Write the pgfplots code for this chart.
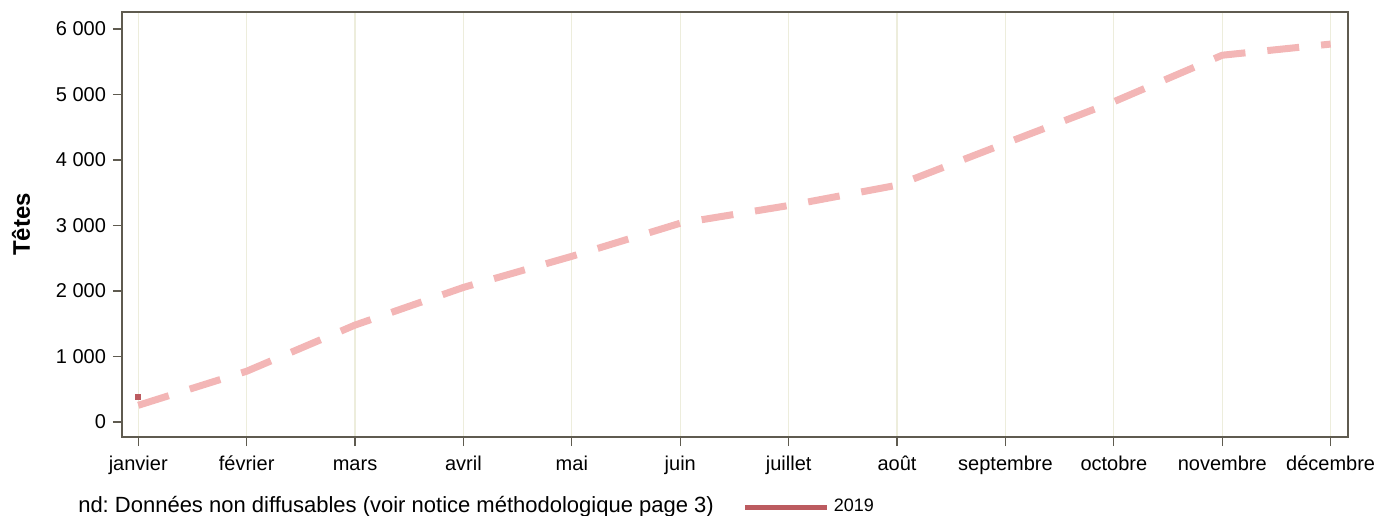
\documentclass[border=0pt]{standalone}
\usepackage{fontspec}
\setmainfont{Liberation Sans}
\usepackage{pgfplots}
\pgfplotsset{compat=1.18}
\definecolor{pinkline}{HTML}{F3B6B6}
\definecolor{darkred}{HTML}{BC5B60}
\definecolor{axisgrey}{HTML}{5F5B50}
\definecolor{gridbeige}{HTML}{EDEDDC}
\frenchspacing

\begin{document}
\begin{tikzpicture}[x=1pt,y=1pt]
\path[use as bounding box] (0,0) rectangle (694.5,257.5);
\begin{axis}[
  at={(61pt,39pt)},anchor=south west,
  scale only axis,width=613pt,height=212.5pt,
  xmin=-0.15,xmax=11.16,ymin=-229,ymax=6260,
  axis line style={axisgrey,line width=0.8pt},
  tick style={axisgrey,line width=0.6pt},
  tick align=outside,major tick length=4.5pt,
  xtick pos=bottom,ytick pos=left,
  xtick={0,...,11},
  xticklabels={janvier,février,mars,avril,mai,juin,juillet,août,septembre,octobre,novembre,décembre},
  ytick={0,1000,2000,3000,4000,5000,6000},
  yticklabels={0,1 000,2 000,3 000,4 000,5 000,6 000},
  tick label style={font=\fontsize{10}{12}\selectfont,black},
  xticklabel style={yshift=-1pt,text height=7.5pt,text depth=2pt},
  ylabel={\textbf{Têtes}},ylabel style={font=\fontsize{12}{14}\selectfont,yshift=6pt},
  xmajorgrids,grid style={gridbeige,line width=0.6pt},
  legend style={at={(rel axis cs:0.506,-0.165)},anchor=west,draw=none,fill=none,
    font=\fontsize{9}{10}\selectfont,inner sep=0pt},
  legend image code/.code={\draw[darkred,line width=2.5pt] (0pt,0pt) -- (41pt,0pt);},
  clip=false,
]
\addplot[pinkline,line width=3.5pt,dash pattern=on 16pt off 11pt,forget plot] coordinates {
(0,255) (1,775) (2,1480) (3,2055) (4,2530) (5,3035) (6,3305) (7,3615) (8,4255) (9,4890) (10,5600) (11,5770)};
\addplot[darkred,only marks,mark=square*,mark size=1.2pt] coordinates {(0,382)};
\addlegendentry{2019}
\node[anchor=west,font=\fontsize{11}{13}\selectfont,inner sep=0pt] at (rel axis cs:-0.036,-0.165) {nd: Données non diffusables (voir notice méthodologique page 3)};
\end{axis}
\end{tikzpicture}
\end{document}
